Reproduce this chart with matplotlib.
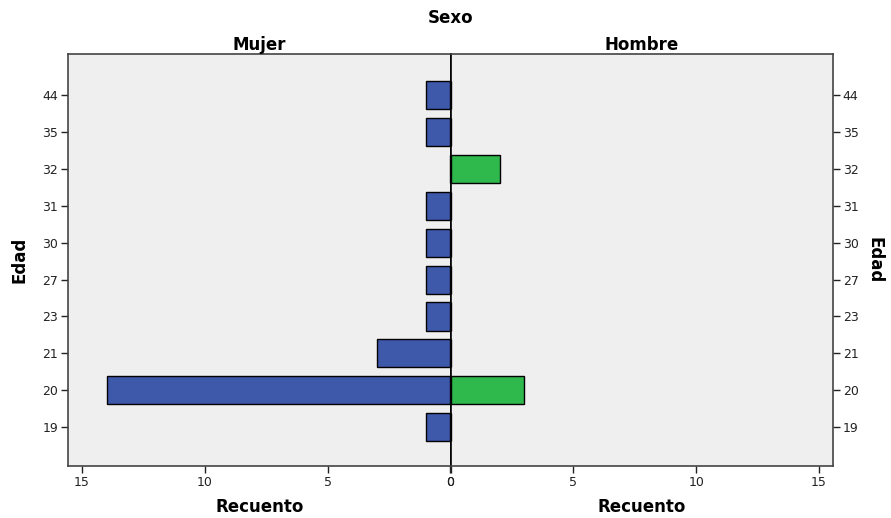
import matplotlib.pyplot as plt
import numpy as np

# --- Data: age distribution by sex ---
ages = ['19', '20', '21', '23', '27', '30', '31', '32', '35', '44']
mujer = [1, 14, 3, 1, 1, 1, 1, 0, 1, 1]
hombre = [0, 3, 0, 0, 0, 0, 0, 2, 0, 0]
x_ticks = [0, 5, 10, 15]

plt.rcParams['font.family'] = ['DejaVu Sans']

W, H = 891, 518
fig = plt.figure(figsize=(W / 100, H / 100), dpi=100)

left, mid, right = 68, 450.5, 833
top, bottom = 54, 466
ax_l = fig.add_axes([left / W, 1 - bottom / H, (mid - left) / W, (bottom - top) / H])
ax_r = fig.add_axes([mid / W, 1 - bottom / H, (right - mid) / W, (bottom - top) / H])

bg = '#efefef'
blue = '#3e58aa'
green = '#2fb84b'
ypos = np.arange(len(ages))
xmax = 15.57
lab = dict(fontsize=12, fontweight='bold')

for ax, vals, color in [(ax_l, mujer, blue), (ax_r, hombre, green)]:
    ax.set_facecolor(bg)
    ax.barh(ypos, vals, height=0.76, color=color, edgecolor='black', linewidth=1.0, zorder=3)
    ax.set_ylim(-1.05, len(ages) - 1 + 1.11)
    ax.set_xticks(x_ticks)
    ax.set_xticklabels([str(t) for t in x_ticks])
    ax.tick_params(axis='both', labelsize=9, colors='#222222', length=5, width=1, direction='out', pad=2)
    for s in ax.spines.values():
        s.set_color('#444444')
        s.set_linewidth(1.2)

# left panel grows to the left
ax_l.set_xlim(xmax, 0)
ax_l.set_yticks(ypos)
ax_l.set_yticklabels(ages)
ax_l.spines['right'].set_color('black')
ax_l.set_ylabel('Edad', labelpad=10, **lab)
ax_l.set_xlabel('Recuento', labelpad=7, **lab)
ax_l.set_title('Mujer', pad=1, **lab)

# right panel
ax_r.set_xlim(0, xmax)
ax_r.set_yticks(ypos)
ax_r.set_yticklabels(ages)
ax_r.yaxis.tick_right()
ax_r.yaxis.set_label_position('right')
ax_r.spines['left'].set_color('black')
ax_r.tick_params(axis='y', left=False)
ax_r.set_ylabel('Edad', rotation=-90, labelpad=18, **lab)
ax_r.set_xlabel('Recuento', labelpad=7, **lab)
ax_r.set_title('Hombre', pad=1, **lab)

fig.text(mid / W, 1 - 18 / H, 'Sexo', ha='center', va='center', **lab)

plt.savefig('out.png', dpi=100, facecolor='white')
